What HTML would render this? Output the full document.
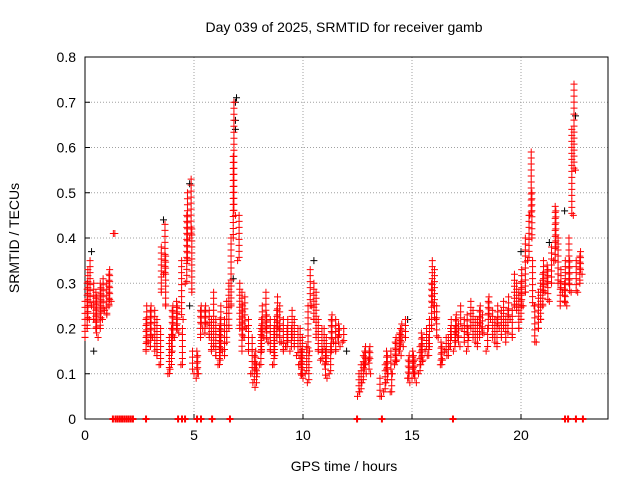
<!DOCTYPE html>
<html><head><meta charset="utf-8"><style>
body{margin:0;background:#fff;}
svg{display:block;font-family:"Liberation Sans",sans-serif;}
</style></head><body>
<svg id="chart" width="640" height="480" viewBox="0 0 640 480">
<rect width="640" height="480" fill="#fff"/>
<text x="344" y="32" font-size="14" text-anchor="middle">Day 039 of 2025, SRMTID for receiver gamb</text>
<text x="344" y="471" font-size="14" text-anchor="middle">GPS time / hours</text>
<text transform="translate(19,238) rotate(-90)" font-size="14" text-anchor="middle">SRMTID / TECUs</text>
<g id="grid"></g><g id="axes"></g><g id="marks"></g>
</svg>
<script>
const xTicks=[0,5,10,15,20];
const yTicks=[0,0.1,0.2,0.3,0.4,0.5,0.6,0.7,0.8];
const redT=[0,0.1,0.2,0.3,0.4,0.5,0.6,0.7,0.8,0.9,1.0,1.1,1.2,1.3,
2.8,2.9,3.0,3.1,3.2,3.3,3.4,3.5,3.6,3.7,3.8,3.9,4.0,4.1,4.2,4.3,4.4,4.5,4.6,4.7,4.8,4.9,5.0,5.1,5.2,5.3,5.4,5.5,5.6,5.7,5.8,5.9,6.0,6.1,6.2,6.3,6.4,6.5,6.6,6.7,6.8,6.9,7.0,7.1,7.2,7.3,7.4,7.5,
7.6,7.7,7.8,7.9,8.0,8.1,8.2,8.3,8.4,8.5,8.6,8.7,8.8,8.9,9.0,9.1,9.2,9.3,9.4,9.5,9.6,9.7,9.8,9.9,10.0,10.1,10.2,10.3,10.4,10.5,10.6,10.7,10.8,10.9,11.0,11.1,11.2,11.3,11.4,11.5,11.6,11.7,11.8,
12.5,12.6,12.7,12.8,12.9,13.0,13.1,13.6,13.7,13.8,13.9,14.0,14.1,14.2,14.3,14.4,14.5,14.6,14.7,14.8,14.9,15.0,15.1,15.2,15.3,15.4,15.5,15.6,15.7,15.8,15.9,16.0,16.1,16.2,16.3,16.4,16.5,16.6,16.7,16.8,16.9,17.0,17.1,17.2,17.3,17.4,17.5,17.6,17.7,17.8,17.9,18.0,18.1,18.2,18.3,18.4,18.5,18.6,18.7,18.8,18.9,19.0,19.1,19.2,19.3,19.4,19.5,19.6,19.7,19.8,19.9,20.0,20.1,20.2,20.3,20.4,20.5,20.6,20.7,20.8,20.9,21.0,21.1,21.2,21.3,21.4,21.5,21.6,21.7,21.8,21.9,22.0,22.1,22.2,22.3,22.4,22.5,22.6,22.7,22.8];
const redLo=[.18,.20,.22,.25,.22,.20,.18,.20,.22,.24,.23,.25,.26,.41,
.15,.17,.16,.18,.15,.14,.12,.28,.32,.25,.10,.11,.15,.18,.20,.19,.12,.22,.30,.35,.40,.28,.10,.09,.10,.18,.20,.19,.21,.18,.15,.16,.14,.12,.13,.15,.14,.17,.20,.25,.40,.45,.35,.20,.15,.18,.20,.15,
.10,.08,.07,.10,.12,.15,.18,.20,.17,.15,.12,.14,.18,.20,.17,.15,.16,.17,.15,.18,.16,.14,.12,.10,.09,.10,.08,.15,.25,.22,.18,.15,.13,.15,.12,.09,.10,.15,.17,.15,.18,.16,.17,
.05,.06,.08,.12,.10,.13,.10,.05,.06,.08,.10,.06,.10,.12,.13,.15,.14,.16,.18,.09,.08,.09,.10,.08,.10,.12,.13,.15,.14,.16,.20,.25,.22,.18,.12,.13,.15,.14,.16,.18,.15,.17,.18,.16,.20,.17,.15,.18,.20,.18,.17,.16,.18,.20,.19,.15,.20,.22,.18,.17,.16,.20,.18,.20,.17,.19,.22,.18,.25,.24,.20,.22,.25,.28,.35,.45,.40,.25,.17,.20,.22,.25,.28,.30,.26,.30,.35,.38,.30,.25,.28,.26,.25,.30,.28,.45,.55,.28,.30,.32];
const redHi=[.26,.30,.33,.35,.30,.28,.27,.30,.29,.31,.30,.32,.33,.41,
.22,.25,.24,.25,.24,.22,.20,.38,.43,.36,.18,.20,.24,.25,.26,.25,.20,.35,.45,.50,.53,.42,.15,.14,.15,.24,.25,.24,.25,.24,.22,.28,.22,.20,.22,.25,.22,.26,.30,.40,.58,.70,.45,.30,.28,.25,.27,.22,
.18,.14,.12,.15,.20,.22,.25,.28,.23,.22,.20,.22,.24,.27,.25,.22,.20,.22,.20,.24,.22,.20,.20,.18,.15,.16,.14,.25,.33,.30,.28,.22,.20,.20,.18,.15,.16,.22,.23,.22,.20,.21,.20,
.10,.12,.14,.16,.15,.16,.15,.09,.12,.14,.15,.10,.15,.18,.17,.20,.19,.21,.22,.14,.13,.14,.15,.13,.16,.18,.19,.20,.18,.22,.30,.35,.33,.25,.16,.17,.18,.18,.20,.22,.20,.22,.23,.21,.25,.22,.20,.23,.26,.24,.22,.22,.24,.25,.23,.20,.26,.27,.24,.22,.22,.25,.24,.26,.22,.24,.27,.24,.32,.30,.28,.30,.33,.40,.45,.59,.50,.35,.25,.28,.30,.32,.35,.34,.33,.38,.47,.46,.40,.30,.33,.30,.35,.40,.35,.64,.74,.35,.36,.37];
const zeroT=[1.28,1.4,1.5,1.6,1.7,1.8,1.9,2.0,2.1,2.2,2.8,4.27,4.45,4.59,5.14,5.32,5.83,6.65,12.48,13.62,16.88,22.02,22.16,22.52,22.84];
const blackT=[0.3,0.4,3.6,4.8,4.8,6.8,6.9,6.9,6.9,6.95,10.5,12.0,14.8,20.0,21.3,22.0,22.5];
const blackV=[.37,.15,.44,.52,.25,.31,.70,.66,.64,.71,.35,.15,.22,.37,.39,.46,.67];
const L=85,R=608,T=57,B=419;
const xs=h=>L+h*(303-85)/10;
const ys=v=>B-v*(B-T)/0.8;
const NS="http://www.w3.org/2000/svg";
function mk(tag,attrs,parent){const e=document.createElementNS(NS,tag);for(const k in attrs)e.setAttribute(k,attrs[k]);parent.appendChild(e);return e;}
const grid=document.getElementById('grid'),axes=document.getElementById('axes'),marks=document.getElementById('marks');
xTicks.forEach(t=>{const x=xs(t);
 if(t>0){const g=mk('line',{x1:x,x2:x,y1:T,y2:B,stroke:'#a0a0a0','stroke-dasharray':'1,2'},grid);
 }
 const tk=mk('line',{x1:x,x2:x,y1:B,y2:B-5,stroke:'#000'},axes);
 
 const tx=mk('text',{x:x,y:B+21,'font-size':14,'text-anchor':'middle'},axes);tx.textContent=t;
 });
yTicks.forEach(t=>{const y=ys(t);
 if(t>0&&t<0.8){const g=mk('line',{x1:L,x2:R,y1:y,y2:y,stroke:'#a0a0a0','stroke-dasharray':'1,2'},grid);
 }
 const tk=mk('line',{x1:L,x2:L+5,y1:y,y2:y,stroke:'#000'},axes);
 
 const tx=mk('text',{x:L-9,y:y+5,'font-size':14,'text-anchor':'end'},axes);tx.textContent=t===0?'0':t.toFixed(1);
 });
const frame=mk('rect',{x:L,y:T,width:R-L,height:B-T,fill:'none',stroke:'#000'},axes);

function plus(x,y,c){const p=mk('path',{d:`M${x-3.5},${y}h7M${x},${y-3.5}v7`,stroke:c,'stroke-width':1,fill:'none'},marks);return p;}
blackT.forEach((t,i)=>{const p=plus(xs(t),ys(blackV[i]),'#000');
 });
redT.forEach((t,i)=>{
 const x=xs(t),y1=ys(redHi[i]),y0=ys(redLo[i]);
 for(let y=y1;y<=y0+0.1;y+=6){
  const dx=((Math.round(y)%3)-1)*1.5;
  const p=plus(x+dx,y,'#f00');
  
  
 }
 const b=plus(x,y0,'#f00');
 });
zeroT.forEach(t=>{const p=plus(xs(t),ys(0),'#f00');p.setAttribute('stroke-width',2);
 });
</script>
</body></html>
